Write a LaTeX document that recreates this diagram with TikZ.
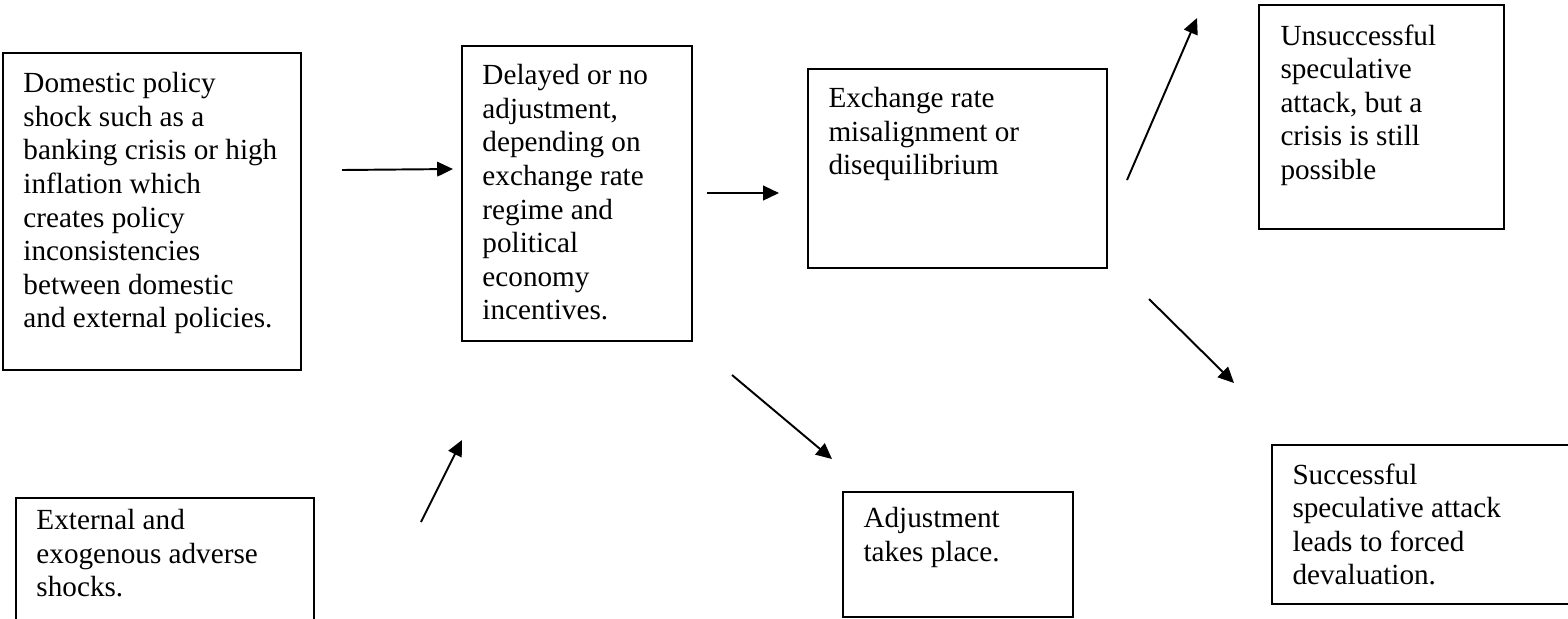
\documentclass[tikz,border=0pt]{standalone}
\usepackage{fontspec}
\setmainfont{Liberation Serif}
\usetikzlibrary{arrows.meta, positioning}

\tikzset{
  box/.style={draw, line width=0.8pt, anchor=north west, inner sep=0pt},
  txt/.style={anchor=north west, inner sep=0pt, align=left, font=\fontsize{12}{13.8}\selectfont},
  arr/.style={line width=0.8pt, -{Triangle[length=6.5pt, width=6pt]}}
}

\begin{document}
\begin{tikzpicture}[x=0.411pt, y=-0.411pt]
    \clip (0,0) rectangle (1568,618);
    % boxes
    \node[box, minimum width=298*0.411pt, minimum height=317*0.411pt] (dom) at (2,52) {};
    \node[box, minimum width=230*0.411pt, minimum height=295*0.411pt] (delay) at (461,45) {};
    \node[box, minimum width=299*0.411pt, minimum height=199*0.411pt] (misal) at (807,68) {};
    \node[box, minimum width=245*0.411pt, minimum height=224*0.411pt] (unsucc) at (1258,4) {};
    \node[box, minimum width=230*0.411pt, minimum height=125*0.411pt] (adjust) at (842,491) {};
    \node[box, minimum width=320*0.411pt, minimum height=159*0.411pt] (succ) at (1271,444) {};
    \node[box, minimum width=298*0.411pt, minimum height=160*0.411pt] (ext) at (15,497) {};
    % texts
    \node[txt] (domtxt) at ([shift={(21,20)}]dom.north west) {Domestic policy\\shock such as a\\banking crisis or high\\inflation which\\creates policy\\inconsistencies\\between domestic\\and external policies.};
    \node[txt] (delaytxt) at ([shift={(21,19)}]delay.north west) {Delayed or no\\adjustment,\\depending on\\exchange rate\\regime and\\political\\economy\\incentives.};
    \node[txt] (misaltxt) at ([shift={(21,19)}]misal.north west) {Exchange rate\\misalignment or\\disequilibrium};
    \node[txt] (unsucctxt) at ([shift={(22,20)}]unsucc.north west) {Unsuccessful\\speculative\\attack, but a\\crisis is still\\possible};
    \node[txt] (adjusttxt) at ([shift={(21,16)}]adjust.north west) {Adjustment\\takes place.};
    \node[txt] (succtxt) at ([shift={(21,19)}]succ.north west) {Successful\\speculative attack\\leads to forced\\devaluation.};
    \node[txt] (exttxt) at ([shift={(21,12)}]ext.north west) {External and\\exogenous adverse\\shocks.};
    % arrows
    \coordinate (p1) at (342,170);  \coordinate (q1) at (453,169);
    \coordinate (p2) at (707,193);  \coordinate (q2) at (779,193);
    \coordinate (p3) at (421,522);  \coordinate (q3) at (462,440);
    \coordinate (p4) at (732,375);  \coordinate (q4) at (832,459);
    \coordinate (p5) at (1127,180); \coordinate (q5) at (1197,18);
    \coordinate (p6) at (1149,299); \coordinate (q6) at (1234,383);
    \foreach \i in {1,...,6}
        \draw[arr] (p\i) -- (q\i);
\end{tikzpicture}
\end{document}
